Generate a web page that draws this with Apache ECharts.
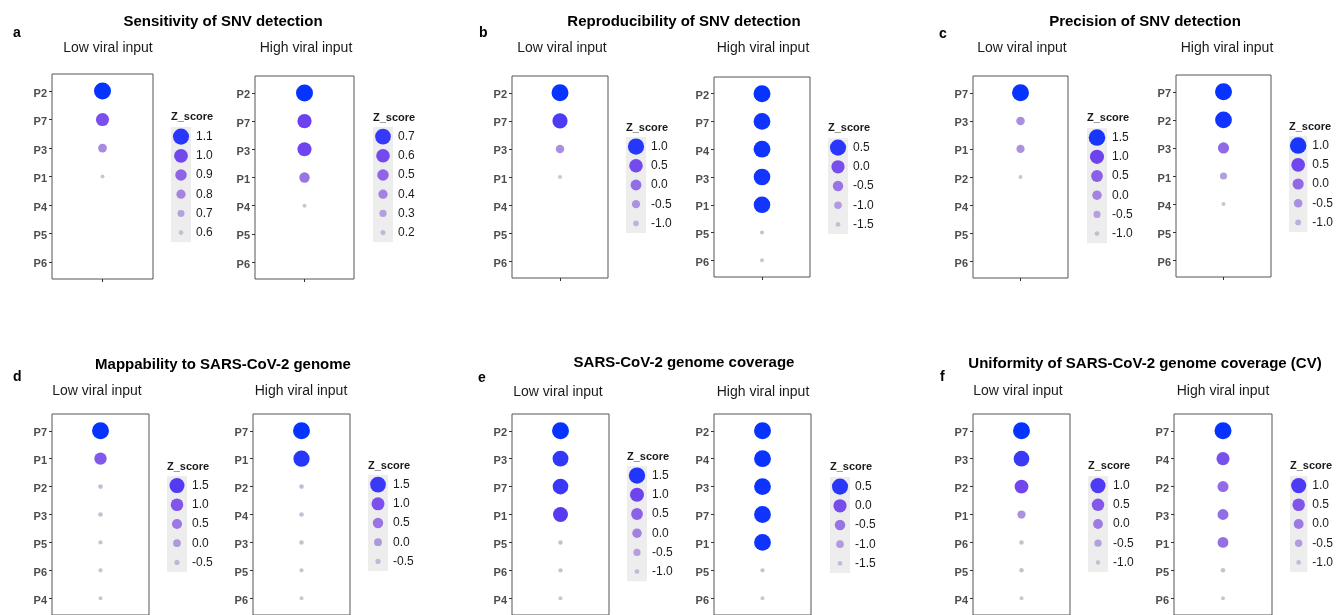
<!DOCTYPE html>
<html>
<head>
<meta charset="utf-8">
<title>Z_score dot plots</title>
<script src="https://cdn.jsdelivr.net/npm/echarts@6/dist/echarts.min.js"></script>
<style>
  html, body {margin:0;padding:0;background:#fff;}
  #chart {width:1336px;height:615px;}
</style>
</head>
<body>
<div id="chart"></div>
<script>
// ---- data ----
// a: Sensitivity of SNV detection
const catsALow = ['P2', 'P7', 'P3', 'P1', 'P4', 'P5', 'P6'];
const zALow = [1.14, 0.97, 0.78, 0.57, null, null, null];
const legALow = [1.1, 1.0, 0.9, 0.8, 0.7, 0.6];
const catsAHigh = ['P2', 'P7', 'P3', 'P1', 'P4', 'P5', 'P6'];
const zAHigh = [0.76, 0.63, 0.62, 0.45, 0.15, null, null];
const legAHigh = [0.7, 0.6, 0.5, 0.4, 0.3, 0.2];
// b: Reproducibility of SNV detection
const catsBLow = ['P2', 'P7', 'P3', 'P1', 'P4', 'P5', 'P6'];
const zBLow = [1.15, 0.8, -0.45, -1.3, null, null, null];
const legBLow = [1.0, 0.5, 0.0, -0.5, -1.0];
const catsBHigh = ['P2', 'P7', 'P4', 'P3', 'P1', 'P5', 'P6'];
const zBHigh = [0.66, 0.62, 0.62, 0.6, 0.6, -1.6, -1.62];
const legBHigh = [0.5, 0.0, -0.5, -1.0, -1.5];
// c: Precision of SNV detection
const catsCLow = ['P7', 'P3', 'P1', 'P2', 'P4', 'P5', 'P6'];
const zCLow = [1.6, -0.2, -0.25, -1.15, null, null, null];
const legCLow = [1.5, 1.0, 0.5, 0.0, -0.5, -1.0];
const catsCHigh = ['P7', 'P2', 'P3', 'P1', 'P4', 'P5', 'P6'];
const zCHigh = [1.1, 1.05, 0.0, -0.75, -1.35, null, null];
const legCHigh = [1.0, 0.5, 0.0, -0.5, -1.0];
// d: Mappability to SARS-CoV-2 genome
const catsDLow = ['P7', 'P1', 'P2', 'P3', 'P5', 'P6', 'P4'];
const zDLow = [1.9, 0.95, -0.62, -0.64, -0.7, -0.72, -0.75];
const legDLow = [1.5, 1.0, 0.5, 0.0, -0.5];
const catsDHigh = ['P7', 'P1', 'P2', 'P4', 'P3', 'P5', 'P6'];
const zDHigh = [1.75, 1.6, -0.6, -0.62, -0.62, -0.7, -0.72];
const legDHigh = [1.5, 1.0, 0.5, 0.0, -0.5];
// e: SARS-CoV-2 genome coverage
const catsELow = ['P2', 'P3', 'P7', 'P1', 'P5', 'P6', 'P4'];
const zELow = [1.65, 1.4, 1.35, 1.2, -1.1, -1.12, -1.2];
const legELow = [1.5, 1.0, 0.5, 0.0, -0.5, -1.0];
const catsEHigh = ['P2', 'P4', 'P3', 'P7', 'P1', 'P5', 'P6'];
const zEHigh = [0.66, 0.64, 0.63, 0.62, 0.62, -1.6, -1.65];
const legEHigh = [0.5, 0.0, -0.5, -1.0, -1.5];
// f: Uniformity of SARS-CoV-2 genome coverage (CV)
const catsFLow = ['P7', 'P3', 'P2', 'P1', 'P6', 'P5', 'P4'];
const zFLow = [1.35, 1.1, 0.75, -0.3, -1.0, -1.02, -1.1];
const legFLow = [1.0, 0.5, 0.0, -0.5, -1.0];
const catsFHigh = ['P7', 'P4', 'P2', 'P3', 'P1', 'P5', 'P6'];
const zFHigh = [1.35, 0.6, 0.2, 0.18, 0.15, -1.05, -1.15];
const legFHigh = [1.0, 0.5, 0.0, -0.5, -1.0];

const titles = ['Sensitivity of SNV detection', 'Reproducibility of SNV detection', 'Precision of SNV detection',
  'Mappability to SARS-CoV-2 genome', 'SARS-CoV-2 genome coverage', 'Uniformity of SARS-CoV-2 genome coverage (CV)'];
const letters = ['a', 'b', 'c', 'd', 'e', 'f'];

// ---- layout ----
const FONT = '"Liberation Sans", Arial, Helvetica, sans-serif';
const palette = ['#c8c6cf', '#b8a6dc', '#a585e0', '#8a60e8', '#6a3ff0', '#0633ff'];

// panel box [left, top, width, height], legend [left, top], sub-title centre x, y
const panels = [
  {cats: catsALow, z: zALow, leg: legALow, box: [52, 74, 101, 205], lg: [171, 127], sub: [108, 48], zt: 117, label: 'Low viral input'},
  {cats: catsAHigh, z: zAHigh, leg: legAHigh, box: [255, 76, 99, 203], lg: [373, 127], sub: [306, 48], zt: 118, label: 'High viral input'},
  {cats: catsBLow, z: zBLow, leg: legBLow, box: [512, 76, 96, 202], lg: [626, 137], sub: [562, 48], zt: 128, label: 'Low viral input'},
  {cats: catsBHigh, z: zBHigh, leg: legBHigh, box: [714, 77, 96, 200], lg: [828, 138], sub: [763, 48], zt: 128, label: 'High viral input'},
  {cats: catsCLow, z: zCLow, leg: legCLow, box: [973, 76, 95, 202], lg: [1087, 128], sub: [1022, 48], zt: 118, label: 'Low viral input'},
  {cats: catsCHigh, z: zCHigh, leg: legCHigh, box: [1176, 75, 95, 202], lg: [1289, 136], sub: [1227, 48], zt: 127, label: 'High viral input'},
  {cats: catsDLow, z: zDLow, leg: legDLow, box: [52, 414, 97, 205], lg: [167, 476], sub: [97, 391], zt: 467, label: 'Low viral input'},
  {cats: catsDHigh, z: zDHigh, leg: legDHigh, box: [253, 414, 97, 205], lg: [368, 475], sub: [301, 391], zt: 466, label: 'High viral input'},
  {cats: catsELow, z: zELow, leg: legELow, box: [512, 414, 97, 205], lg: [627, 466], sub: [558, 392], zt: 457, label: 'Low viral input'},
  {cats: catsEHigh, z: zEHigh, leg: legEHigh, box: [714, 414, 97, 205], lg: [830, 477], sub: [763, 392], zt: 467, label: 'High viral input'},
  {cats: catsFLow, z: zFLow, leg: legFLow, box: [973, 414, 97, 205], lg: [1088, 476], sub: [1018, 391], zt: 466, label: 'Low viral input'},
  {cats: catsFHigh, z: zFHigh, leg: legFHigh, box: [1174, 414, 98, 205], lg: [1290, 476], sub: [1223, 391], zt: 466, label: 'High viral input'}
];
const titlePos = [[223, 22], [684, 22], [1145, 22], [223, 365], [684, 363], [1145, 364]];
const letterPos = [[13, 33], [479, 33], [939, 34], [13, 377], [478, 378], [940, 377]];

const grid = [], xAxis = [], yAxis = [], series = [], visualMap = [], graphic = [];

panels.forEach(function (p) {
  // dot panel
  let gi = grid.length;
  grid.push({left: p.box[0], top: p.box[1], width: p.box[2], height: p.box[3], show: true,
    borderColor: '#555', borderWidth: 1, backgroundColor: '#fff'});
  xAxis.push({gridIndex: gi, type: 'category', data: [''], position: 'bottom',
    axisLine: {show: false, onZero: false}, axisLabel: {show: false}, splitLine: {show: false},
    axisTick: {show: true, alignWithLabel: true, length: 3, lineStyle: {color: '#333'}}});
  let idx = p.cats.map(function (c, i) { return i; });
  yAxis.push({gridIndex: gi, type: 'value', inverse: true, min: -0.6, max: p.cats.length - 0.4,
    axisLine: {show: false, onZero: false}, splitLine: {show: false},
    axisTick: {show: true, length: 3, customValues: idx, lineStyle: {color: '#333'}},
    axisLabel: {customValues: idx, formatter: function (v) { return p.cats[Math.round(v)]; },
      color: '#4d4d4d', fontWeight: 'bold', fontSize: 11, fontFamily: FONT, margin: 5,
      verticalAlign: 'top', padding: [-3, 0, 0, 0]}});
  let si = series.length;
  series.push({type: 'scatter', xAxisIndex: gi, yAxisIndex: gi, symbol: 'circle',
    itemStyle: {opacity: 1},
    data: p.z.map(function (v, i) { return v === null ? null : [0, i, v]; }).filter(function (d) { return d; })});

  // legend (Z_score) as a small grid
  let li = grid.length;
  grid.push({left: p.lg[0], top: p.lg[1], width: 20, height: p.leg.length * 19.2, show: true,
    borderWidth: 0, backgroundColor: '#ededed'});
  xAxis.push({gridIndex: li, type: 'category', data: [''], show: false});
  yAxis.push({gridIndex: li, type: 'category', inverse: true, position: 'right',
    data: p.leg.map(function (v) { return v.toFixed(1); }),
    axisLine: {show: false}, axisTick: {show: false}, splitLine: {show: false},
    axisLabel: {color: '#1a1a1a', fontSize: 12, fontFamily: FONT, margin: 5}});
  let lsi = series.length;
  series.push({type: 'scatter', xAxisIndex: li, yAxisIndex: li, symbol: 'circle',
    itemStyle: {opacity: 1},
    data: p.leg.map(function (v, i) { return [0, i, v]; })});

  let vals = p.z.filter(function (v) { return v !== null; });
  visualMap.push({type: 'continuous', show: false, dimension: 2, seriesIndex: [si, lsi],
    min: Math.min.apply(null, vals), max: Math.max.apply(null, vals),
    inRange: {color: palette, symbolSize: [4, 17]}});

  graphic.push({type: 'text', x: p.sub[0], y: p.sub[1],
    style: {text: p.label, font: '14px ' + FONT, fill: '#1a1a1a', align: 'center', verticalAlign: 'middle'}});
  graphic.push({type: 'text', x: p.lg[0], y: p.zt,
    style: {text: 'Z_score', font: 'bold 11px ' + FONT, fill: '#1a1a1a', align: 'left', verticalAlign: 'middle'}});
});

titles.forEach(function (t, i) {
  graphic.push({type: 'text', x: titlePos[i][0], y: titlePos[i][1],
    style: {text: t, font: 'bold 15px ' + FONT, fill: '#000', align: 'center', verticalAlign: 'middle'}});
  graphic.push({type: 'text', x: letterPos[i][0], y: letterPos[i][1],
    style: {text: letters[i], font: 'bold 14px ' + FONT, fill: '#000', align: 'left', verticalAlign: 'middle'}});
});

const myChart = echarts.init(document.getElementById('chart'), null, {renderer: 'canvas'});
myChart.setOption({
  animation: false,
  backgroundColor: '#fff',
  grid: grid,
  xAxis: xAxis,
  yAxis: yAxis,
  visualMap: visualMap,
  series: series,
  graphic: graphic
});
</script>
</body>
</html>
